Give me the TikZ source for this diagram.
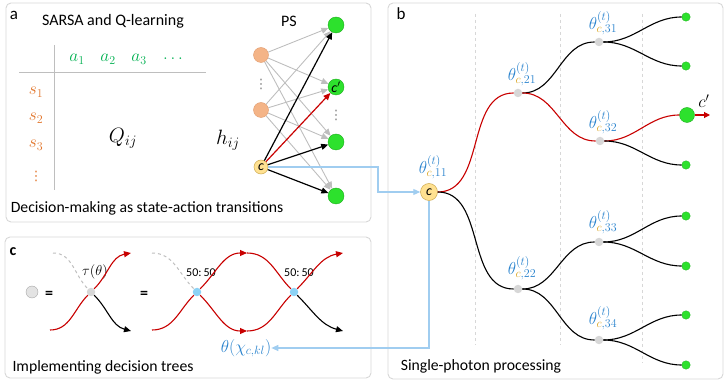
\documentclass[tikz,border=0pt]{standalone}
\usepackage{fontspec}
\setmainfont{Carlito}
\newfontfamily\djv{DejaVu Sans}
\usetikzlibrary{arrows.meta}
\definecolor{cblue}{RGB}{40,130,205}
\definecolor{cgold}{RGB}{215,160,20}
\definecolor{cgreen}{RGB}{0,176,80}
\definecolor{corange}{RGB}{225,115,40}
\definecolor{leafg}{RGB}{45,225,45}
\definecolor{leafd}{RGB}{30,175,30}
\definecolor{peach}{RGB}{244,180,135}
\definecolor{peachd}{RGB}{225,155,110}
\definecolor{cyell}{RGB}{255,225,145}
\definecolor{cyelld}{RGB}{205,170,80}
\definecolor{cred}{RGB}{200,0,0}
\definecolor{lblue}{RGB}{160,205,240}
\definecolor{edgegray}{RGB}{190,190,190}
\definecolor{dotgray}{RGB}{215,215,215}
\definecolor{dotblue}{RGB}{140,210,245}
\definecolor{panelgray}{RGB}{215,215,215}
\newcommand{\thlab}[1]{$\theta^{(t)}_{\textcolor{cgold}{c},#1}$}
\begin{document}
\begin{tikzpicture}[x=1pt,y=-1pt,
  panel/.style={draw=panelgray,line width=0.9pt,rounded corners=5pt},
  txt/.style={inner sep=0pt,font=\fontsize{15.7}{18}\selectfont},
  ptag/.style={inner sep=0pt,font=\fontsize{17}{19}\selectfont},
  mth/.style={inner sep=0pt,font=\fontsize{17}{19}\selectfont},
  dots/.style={inner sep=0pt,font=\fontsize{13}{14}\djv},
  thl/.style={inner sep=0pt,text=cblue,font=\fontsize{17}{19}\selectfont},
  tline/.style={draw=edgegray,line width=1pt},
  arr/.style={-{Triangle[length=7pt,width=6pt]}},
  gedge/.style={draw=edgegray,line width=0.9pt,arr},
  bedge/.style={draw=black,line width=1.2pt,arr},
  redge/.style={draw=cred,line width=1.2pt,arr},
  orn/.style={circle,fill=peach,draw=peachd,line width=0.4pt,minimum size=15pt,inner sep=0pt},
  cnode/.style={circle,fill=cyell,draw=cyelld,line width=0.5pt,inner sep=0pt,font=\fontsize{14}{16}\selectfont\itshape},
  gnode/.style={circle,fill=leafg,draw=leafd,line width=0.4pt,minimum size=16pt,inner sep=0pt},
  leaf/.style={circle,fill=leafg,draw=leafd,line width=0.3pt,minimum size=8.5pt,inner sep=0pt},
  bs/.style={circle,fill=dotgray,minimum size=8.5pt,inner sep=0pt},
  bsb/.style={circle,fill=dotblue,minimum size=8.5pt,inner sep=0pt},
  tb/.style={line width=1.1pt,black},
  tr/.style={line width=1.1pt,cred},
  vdash/.style={draw=panelgray,dashed,line width=0.7pt},
  lb/.style={draw=lblue,line width=1.1pt},
]
\useasboundingbox (0,0) rectangle (726,382);
% panels
\draw[panel] (6,3) rectangle (371,222);
\draw[panel] (5,237) rectangle (371,378);
\draw[panel] (388,3) rectangle (723,379);

%%%%%%%% panel a
\node[ptag] (taga) at (14,15) {a};
\node[txt,font=\fontsize{16}{18}\selectfont] (sarsa) at (113,21) {SARSA and Q-learning};
\node[txt,font=\fontsize{16}{18}\selectfont] (ps) at (289,21) {PS};
\node[txt] (dm) at (147,208) {Decision-making as state-action transitions};
\draw[tline] (54,45) -- (54,190);
\draw[tline] (19,73) -- (206,73);
\node[mth,text=cgreen] (a1) at (77,59) {$a_1$};
\node[mth,text=cgreen] (a2) at (108,59) {$a_2$};
\node[mth,text=cgreen] (a3) at (139,59) {$a_3$};
\node[mth,text=cgreen] (a4) at (173,59) {$\dots$};
\node[mth,text=corange] (s1) at (36,92) {$s_1$};
\node[mth,text=corange] (s2) at (36,118) {$s_2$};
\node[mth,text=corange] (s3) at (36,145) {$s_3$};
\node[dots,text=corange] (s4) at (36,176) {⋮};
\node[mth,font=\fontsize{20}{22}\selectfont] (q) at (123,138) {$Q_{ij}$};
\node[mth,font=\fontsize{20}{22}\selectfont] (h) at (228,140) {$h_{ij}$};

\node[orn] (o1) at (261,55) {};
\node[orn] (o2) at (261,110) {};
\node[dots,text=gray] (ov) at (261,84) {⋮};
\node[cnode,minimum size=14pt] (ca) at (261,167) {c};
\node[gnode] (g1) at (336,25) {};
\node[gnode,font=\fontsize{14}{16}\selectfont\itshape] (g2) at (336,87) {c$'$};
\node[gnode] (g3) at (336,142) {};
\node[gnode] (g4) at (336,196) {};
\node[dots,text=gray] (gv) at (336,115) {⋮};
\foreach \o in {o1,o2}{\foreach \g in {g1,g2,g3,g4}{\draw[gedge] (\o) -- (\g);}}
\draw[bedge] (ca) -- (g1);
\draw[bedge] (ca) -- (g3);
\draw[bedge] (ca) -- (g4);
\draw[redge] (ca) -- (g2);

%%%%%%%% panel b
\node[ptag] (tagb) at (401,14) {b};
\node[txt] (spp) at (481,366) {Single-photon processing};
\draw[vdash] (475,14) -- (475,345);
\draw[vdash] (560,14) -- (560,345);
\draw[vdash] (642,14) -- (642,363);

\node[cnode,minimum size=17pt] (cb) at (429,192) {c};
\node[bs] (n21) at (518,93) {};
\node[bs] (n22) at (518,289) {};
\node[bs] (n31) at (599,42) {};
\node[bs] (n32) at (600,141) {};
\node[bs] (n33) at (599,242) {};
\node[bs] (n34) at (599,340) {};
\node[leaf] (l1) at (686,17) {};
\node[leaf] (l2) at (686,66) {};
\node[gnode,minimum size=15pt] (l3) at (687,115) {};
\node[leaf] (l4) at (686,165) {};
\node[leaf] (l5) at (686,216) {};
\node[leaf] (l6) at (686,266) {};
\node[leaf] (l7) at (686,315) {};
\node[leaf] (l8) at (686,365) {};
\coordinate (cpo) at (710,115);
\draw[line width=1.1pt,cred,-{Triangle[length=6pt,width=6pt]}] (l3) -- (cpo);
\node[mth,font=\fontsize{18}{20}\selectfont] (cpl) at (704,101) {$c'$};

\node[thl] (t11) at (433,167) {\thlab{11}};
\node[thl] (t21) at (522,74) {\thlab{21}};
\node[thl] (t22) at (522,268) {\thlab{22}};
\node[thl] (t31) at (603,23) {\thlab{31}};
\node[thl] (t32) at (603,122) {\thlab{32}};
\node[thl] (t33) at (603,222) {\thlab{33}};
\node[thl] (t34) at (603,318) {\thlab{34}};

\draw[tr] (cb) to[out=0,in=180] (n21);
\draw[tb] (cb) to[out=0,in=180] (n22);
\draw[tb] (n21) to[out=0,in=180] (n31);
\draw[tr] (n21) to[out=0,in=180] (n32);
\draw[tb] (n22) to[out=0,in=180] (n33);
\draw[tb] (n22) to[out=0,in=180] (n34);
\draw[tb] (n31) to[out=0,in=180] (l1);
\draw[tb] (n31) to[out=0,in=180] (l2);
\draw[tr] (n32) to[out=0,in=180] (l3);
\draw[tb] (n32) to[out=0,in=180] (l4);
\draw[tb] (n33) to[out=0,in=180] (l5);
\draw[tb] (n33) to[out=0,in=180] (l6);
\draw[tb] (n34) to[out=0,in=180] (l7);
\draw[tb] (n34) to[out=0,in=180] (l8);

%%%%%%%% panel c
\node[ptag,font=\fontsize{16}{18}\selectfont\bfseries] (tagc) at (13,252) {c};
\node[txt] (idt) at (103,367) {Implementing decision trees};
\node[circle,fill=dotgray!70,draw=gray!70,line width=0.4pt,minimum size=12pt,inner sep=0pt] (leg) at (32,292) {};
\node[txt,font=\fontsize{16}{18}\selectfont\bfseries] (eq1) at (49,295) {=};
\node[txt,font=\fontsize{16}{18}\selectfont\bfseries] (eq2) at (144,295) {=};
\node[bs] (d0) at (91,292) {};
\node[mth,font=\fontsize{15}{17}\selectfont] (tau) at (95,272) {$\tau(\theta)$};
\coordinate (p0a) at (50,330);
\coordinate (p0b) at (53,253);
\coordinate (p0c) at (131,253);
\coordinate (p0d) at (131,331);
\draw[tr] (p0a) to[out=0,in=225] (d0);
\draw[draw=gray!50,dashed,line width=1pt] (p0b) to[out=0,in=135] (d0);
\draw[tr,arr] (d0) to[out=45,in=190] (p0c);
\draw[tb,arr] (d0) to[out=-45,in=165] (p0d);

\node[bsb] (d1) at (197,292) {};
\node[bsb] (d2) at (294,292) {};
\node[txt,font=\fontsize{12}{14}\selectfont] (f1) at (201,273) {50:\,50};
\node[txt,font=\fontsize{12}{14}\selectfont] (f2) at (299,273) {50:\,50};
\coordinate (p1a) at (152,330);
\coordinate (p1b) at (152,253);
\coordinate (up) at (247,253);
\coordinate (dn) at (247,331);
\coordinate (p2c) at (343,253);
\coordinate (p2d) at (343,331);
\draw[tr] (p1a) to[out=0,in=225] (d1);
\draw[draw=gray!50,dashed,line width=1pt] (p1b) to[out=0,in=135] (d1);
\draw[tr,arr] (d1) to[out=45,in=180] (up);
\draw[tr] (up) to[out=0,in=135] (d2);
\draw[tr,arr] (d1) to[out=-45,in=180] (dn);
\draw[tr] (dn) to[out=0,in=225] (d2);
\draw[tr,arr] (d2) to[out=45,in=190] (p2c);
\draw[tb,arr] (d2) to[out=-45,in=165] (p2d);
\node[mth,text=cblue,font=\fontsize{18}{20}\selectfont] (thchi) at (246,348) {$\theta\bigl(\chi_{c,kl}\bigr)$};

%%%%%%%% light-blue links
\coordinate (bend) at (378,167);
\draw[lb,-{Triangle[length=7pt,width=6pt]}] (ca) -- (bend) |- (cb);
\draw[lb,-{Triangle[length=7pt,width=6pt]}] (cb) |- (thchi);
\end{tikzpicture}
\end{document}
